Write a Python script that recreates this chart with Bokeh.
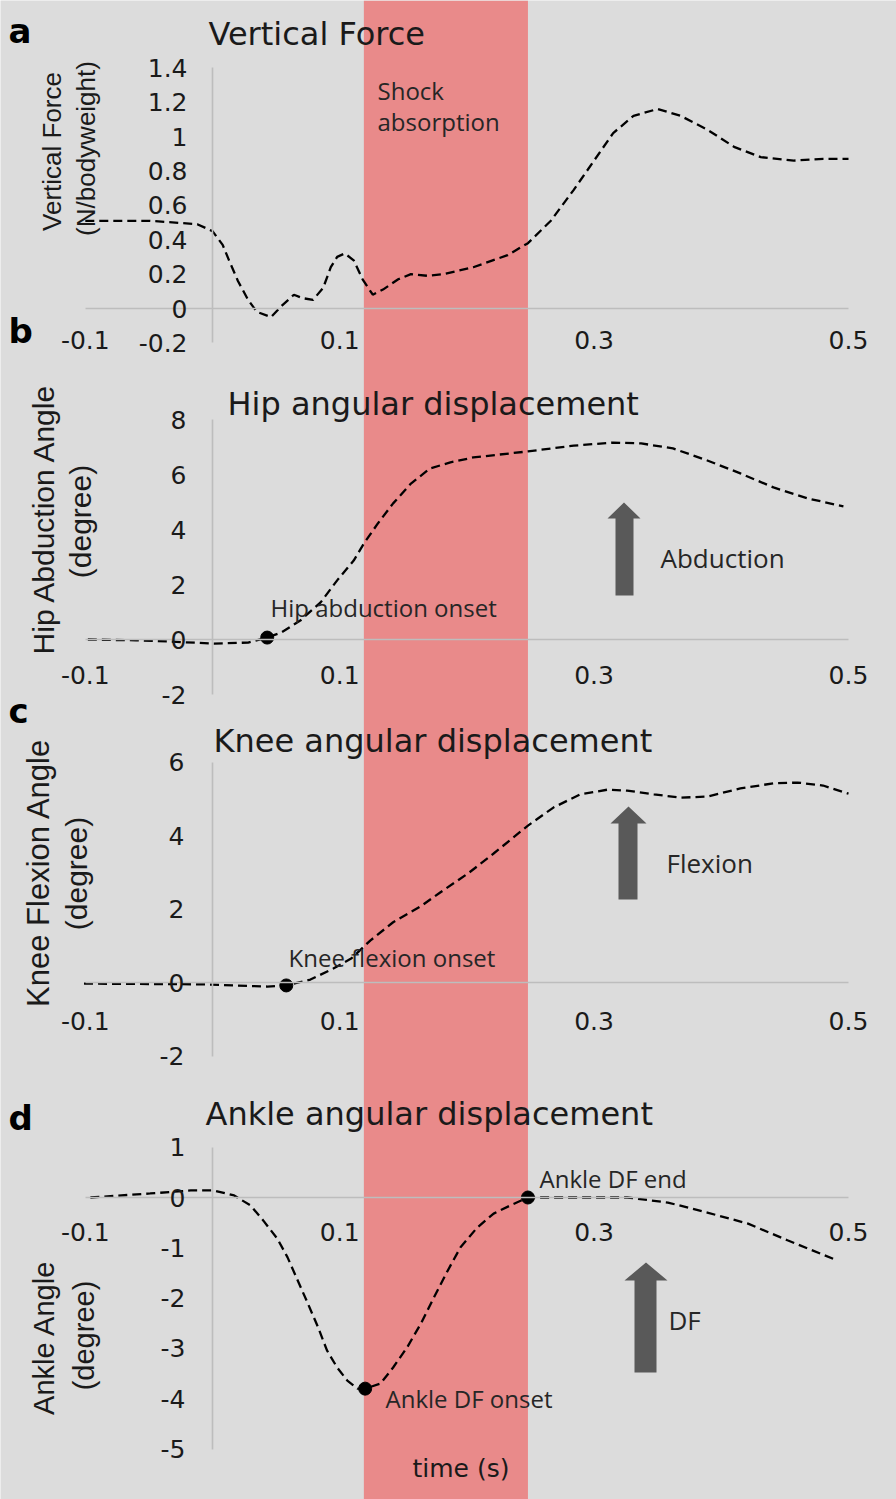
import math
from bokeh.plotting import figure
from bokeh.models import (Range1d, LinearAxis, FixedTicker, BoxAnnotation, Label,
                          PolyAnnotation)
from bokeh.embed import file_html
from bokeh.resources import INLINE

# ---------------- data ----------------
shock_phase = [0.119, 0.248]          # shock absorption window (s)

time_ticks = [-0.1, 0.1, 0.3, 0.5]
time_tick_labels = ["-0.1", "0.1", "0.3", "0.5"]

force_ticks = [-0.2, 0, 0.2, 0.4, 0.6, 0.8, 1, 1.2, 1.4]
force_tick_labels = ["-0.2", "0", "0.2", "0.4", "0.6", "0.8", "1", "1.2", "1.4"]
hip_ticks = [-2, 0, 2, 4, 6, 8]
hip_tick_labels = ["-2", "0", "2", "4", "6", "8"]
knee_ticks = [-2, 0, 2, 4, 6]
knee_tick_labels = ["-2", "0", "2", "4", "6"]
ankle_ticks = [-5, -4, -3, -2, -1, 0, 1]
ankle_tick_labels = ["-5", "-4", "-3", "-2", "-1", "0", "1"]

force_time = [-0.100, -0.049, -0.012, 0.000, 0.008, 0.013, 0.020, 0.028, 0.035, 0.046,
              0.055, 0.064, 0.071, 0.079, 0.087, 0.093, 0.098, 0.104, 0.111, 0.118,
              0.126, 0.134, 0.146, 0.156, 0.169, 0.182, 0.205, 0.232, 0.248, 0.266,
              0.284, 0.300, 0.315, 0.331, 0.350, 0.368, 0.389, 0.410, 0.431, 0.457,
              0.480, 0.500]
force_value = [0.51, 0.51, 0.49, 0.45, 0.37, 0.28, 0.16, 0.05, -0.02, -0.05,
               0.02, 0.08, 0.06, 0.05, 0.12, 0.24, 0.30, 0.32, 0.28, 0.17,
               0.08, 0.11, 0.17, 0.20, 0.19, 0.20, 0.24, 0.31, 0.38, 0.51,
               0.69, 0.86, 1.02, 1.12, 1.16, 1.12, 1.04, 0.94, 0.88, 0.86,
               0.87, 0.87]

hip_time = [-0.098, -0.060, -0.035, 0.001, 0.028, 0.043, 0.054, 0.069, 0.085, 0.098,
            0.111, 0.119, 0.130, 0.142, 0.156, 0.171, 0.187, 0.205, 0.248, 0.284,
            0.315, 0.337, 0.362, 0.389, 0.415, 0.441, 0.468, 0.496]
hip_value = [0.00, -0.03, -0.07, -0.15, -0.11, 0.07, 0.25, 0.69, 1.35, 2.15,
             2.87, 3.49, 4.22, 4.95, 5.67, 6.22, 6.44, 6.62, 6.84, 7.05,
             7.16, 7.13, 6.95, 6.51, 6.04, 5.53, 5.13, 4.84]

knee_time = [-0.101, -0.009, 0.043, 0.058, 0.077, 0.095, 0.109, 0.124, 0.142, 0.164,
             0.179, 0.201, 0.221, 0.248, 0.268, 0.289, 0.311, 0.326, 0.347, 0.368,
             0.389, 0.415, 0.441, 0.460, 0.480, 0.500]
knee_value = [-0.03, -0.05, -0.11, -0.08, 0.08, 0.38, 0.65, 1.14, 1.64, 2.08,
              2.45, 2.97, 3.51, 4.27, 4.76, 5.12, 5.25, 5.22, 5.12, 5.03,
              5.06, 5.28, 5.42, 5.44, 5.36, 5.14]

ankle_time = [-0.096, -0.049, -0.017, 0.001, 0.017, 0.030, 0.040, 0.051, 0.059, 0.067,
              0.075, 0.083, 0.090, 0.098, 0.106, 0.114, 0.120, 0.132, 0.142, 0.153,
              0.164, 0.174, 0.185, 0.195, 0.208, 0.221, 0.234, 0.248, 0.284, 0.326,
              0.358, 0.389, 0.421, 0.452, 0.491]
ankle_value = [0.00, 0.08, 0.14, 0.14, 0.04, -0.16, -0.46, -0.82, -1.19, -1.65,
               -2.11, -2.58, -3.04, -3.38, -3.64, -3.80, -3.80, -3.70, -3.38, -2.98,
               -2.50, -1.99, -1.45, -0.99, -0.60, -0.32, -0.16, 0.00, 0.00, 0.00,
               -0.10, -0.30, -0.52, -0.85, -1.25]

hip_onset_time = [0.043]
hip_onset_value = [0.07]
knee_onset_time = [0.058]
knee_onset_value = [-0.08]
ankle_event_time = [0.120, 0.248]
ankle_event_value = [-3.80, 0.00]

# ---------------- styling / layout ----------------
BG = "#dcdcdc"
BAND = "#e98a8a"
AXC = "#bdbdbd"
TXT = "#1a1a1a"
ANN = "#262626"
ARROW = "#595959"
TICK_FONT = "DejaVu Sans"
TITLE_FONT = "DejaVu Sans"
ANN_FONT = "Open Sans"
YLAB_FONT = "Liberation Sans"

W, H = 896, 1499
PX0 = 212         # pixel of t = 0
PXU = 1272        # pixels per second

# each panel: (pixel of value 0, pixels per unit)
PANELS = {
    "default": (308, 172.0),
    "hip": (639, 27.5),
    "knee": (982, 36.75),
    "ankle": (1197, 50.3),
}


def X(px):
    return (px - PX0) / PXU


def yfun(name):
    z, k = PANELS[name]
    return lambda py: (z - py) / k


def rng(name):
    z, k = PANELS[name]
    return Range1d((z - H) / k, z / k)


p = figure(width=W, height=H, x_range=Range1d(X(0), X(W)), y_range=rng("default"),
           output_backend="svg", toolbar_location=None, x_axis_location=None,
           y_axis_location=None, min_border=0, background_fill_color=BG,
           border_fill_color=BG, outline_line_color=None, title=None)
p.extra_y_ranges = {name: rng(name) for name in PANELS if name != "default"}
for g in p.grid:
    g.visible = False

p.add_layout(BoxAnnotation(left=shock_phase[0], right=shock_phase[1],
                           fill_color=BAND, fill_alpha=1.0, line_color=None,
                           level="underlay"))


def add_axes(name, yticks, ylabels, ybounds, x_standoff, y_standoff):
    common = dict(y_range_name=name, fixed_location=0,
                  axis_line_color=AXC, axis_line_width=1.6,
                  major_tick_line_color=None, minor_tick_line_color=None,
                  major_tick_in=0, major_tick_out=0,
                  major_label_text_font=TICK_FONT, major_label_text_font_size="25px",
                  major_label_text_color=TXT)
    yax = LinearAxis(bounds=ybounds, ticker=FixedTicker(ticks=yticks),
                     major_label_standoff=y_standoff,
                     major_label_overrides=dict(zip(yticks, ylabels)), **common)
    p.add_layout(yax, "left")
    xax = LinearAxis(bounds=(-0.1, 0.5), ticker=FixedTicker(ticks=time_ticks),
                     major_label_standoff=x_standoff,
                     major_label_overrides=dict(zip(time_ticks, time_tick_labels)), **common)
    p.add_layout(xax, "below")


def shift(size):
    # correction between the wanted baseline and where the label lands
    return 0.25 * size + 4


def text(name, px, py, s, font, size, color=ANN, bold=False):
    Y = yfun(name)
    p.add_layout(Label(x=X(px), y=Y(py - shift(size)), y_range_name=name, text=s,
                       text_font=font, text_font_size=f"{size}px", text_color=color,
                       text_font_style="bold" if bold else "normal",
                       text_baseline="alphabetic", text_align="left"))


def vtext(name, px, py, s, size):
    Y = yfun(name)
    p.add_layout(Label(x=X(px - shift(size)), y=Y(py), y_range_name=name, text=s,
                       text_font=YLAB_FONT, text_font_size=f"{size}px", text_color=TXT,
                       angle=math.pi / 2, text_baseline="alphabetic", text_align="center"))


def block_arrow(x_left, x_right, head_left, head_right, bottom, head_base, tip):
    # PolyAnnotation always uses the default ranges, so map pixels through them
    Y = yfun("default")
    cx = (head_left + head_right) / 2
    xs = [X(x_left), X(x_right), X(x_right), X(head_right), X(cx), X(head_left), X(x_left), X(x_left)]
    ys = [Y(bottom), Y(bottom), Y(head_base), Y(head_base), Y(tip), Y(head_base), Y(head_base), Y(bottom)]
    p.add_layout(PolyAnnotation(xs=xs, ys=ys, fill_color=ARROW, fill_alpha=1.0,
                                line_color=None))


DASH = dict(line_color="black", line_width=2.3, line_dash="9 5")

# ---- panel a: vertical force ----
add_axes("default", force_ticks, force_tick_labels, (-0.2, 1.4), 22, 25)
p.line(force_time, force_value, y_range_name="default", **DASH)
text("default", 8, 43, "a", TITLE_FONT, 34, color="black", bold=True)
text("default", 8, 343, "b", TITLE_FONT, 34, color="black", bold=True)
text("default", 208, 45, "Vertical Force", TITLE_FONT, 32, color=TXT)
text("default", 377, 100, "Shock", ANN_FONT, 24)
text("default", 377, 131, "absorption", ANN_FONT, 24)
vtext("default", 61.8, 151, "Vertical Force", 26)
vtext("default", 95.8, 148, "(N/bodyweight)", 26)

# ---- panel b: hip ----
add_axes("hip", hip_ticks, hip_tick_labels, (-2, 8), 26, 26)
p.line(hip_time, hip_value, y_range_name="hip", **DASH)
p.scatter(hip_onset_time, hip_onset_value, y_range_name="hip", size=13, color="black")
text("hip", 227, 415, "Hip angular displacement", TITLE_FONT, 32, color=TXT)
text("hip", 270, 617, "Hip abduction onset", ANN_FONT, 24)
text("hip", 660, 568, "Abduction", ANN_FONT, 26)
block_arrow(615, 633, 607, 640, 595, 518, 502)
vtext("hip", 54, 518, "Hip Abduction Angle", 30)
vtext("hip", 91.3, 521, "(degree)", 30)

# ---- panel c: knee ----
add_axes("knee", knee_ticks, knee_tick_labels, (-2, 6), 29, 28)
p.line(knee_time, knee_value, y_range_name="knee", **DASH)
p.scatter(knee_onset_time, knee_onset_value, y_range_name="knee", size=13, color="black")
text("knee", 8, 723, "c", TITLE_FONT, 34, color="black", bold=True)
text("knee", 213, 752, "Knee angular displacement", TITLE_FONT, 32, color=TXT)
text("knee", 288, 967, "Knee flexion onset", ANN_FONT, 24)
text("knee", 666, 873, "Flexion", ANN_FONT, 26)
block_arrow(618, 637, 610, 646, 899, 823, 806)
vtext("knee", 49.3, 872, "Knee Flexion Angle", 31)
vtext("knee", 87.8, 873, "(degree)", 30)

# ---- panel d: ankle ----
add_axes("ankle", ankle_ticks, ankle_tick_labels, (-5, 1), 25, 27)
p.line(ankle_time, ankle_value, y_range_name="ankle", **DASH)
p.scatter(ankle_event_time, ankle_event_value, y_range_name="ankle", size=13, color="black")
text("ankle", 8, 1130, "d", TITLE_FONT, 34, color="black", bold=True)
text("ankle", 205, 1125, "Ankle angular displacement", TITLE_FONT, 32, color=TXT)
text("ankle", 539, 1188, "Ankle DF end", ANN_FONT, 24)
text("ankle", 385, 1408, "Ankle DF onset", ANN_FONT, 24)
text("ankle", 668, 1330, "DF", ANN_FONT, 26)
block_arrow(634, 656, 624, 667, 1372, 1280, 1262)
text("ankle", 412, 1478, "time (s)", TITLE_FONT, 25, color=TXT)
vtext("ankle", 54.8, 1337, "Ankle Angle", 29)
vtext("ankle", 95, 1335, "(degree)", 29)

open("out.html", "w").write(file_html(p, INLINE))
